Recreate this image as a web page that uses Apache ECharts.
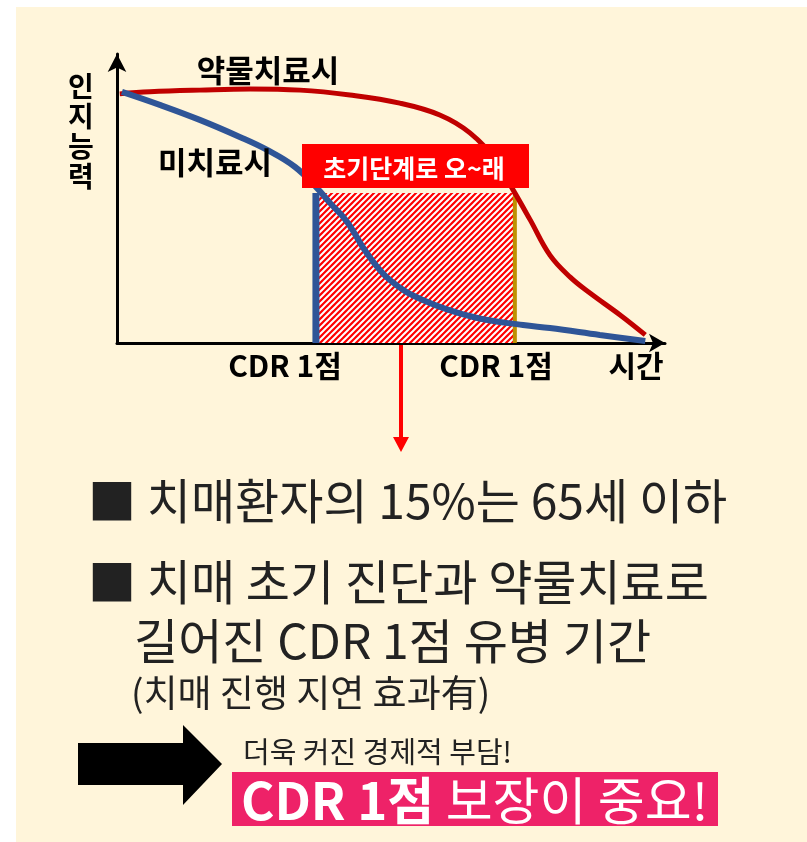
<!DOCTYPE html>
<html><head><meta charset="utf-8">
<script src="https://cdn.jsdelivr.net/npm/echarts@6/dist/echarts.min.js"></script>
<style>html,body{margin:0;padding:0;background:#ffffff;}#c{width:807px;height:842px;}</style>
</head><body><div id="c"></div>
<script>
// ---- data (time units 0-100, cognitive ability 0-100) ----
const treatedTime    = [0.5, 6.0, 15.1, 24.3, 33.4, 42.5, 51.6, 58.9, 64.4, 69.0, 72.3, 75.4, 79.0, 82.7, 86.3, 91.8, 96.4];
const treatedAbility = [86.2, 86.9, 87.5, 87.9, 87.5, 85.8, 83.0, 78.9, 72.7, 63.3, 52.9, 42.6, 30.4, 22.8, 17.3, 9.7, 2.8];
const untreatedTime    = [0.9, 7.8, 15.1, 22.4, 27.4, 32.5, 36.5, 38.9, 42.0, 45.6, 49.8, 55.8, 65.0, 74.1, 79.0, 88.1, 96.4];
const untreatedAbility = [86.9, 82.4, 77.2, 71.3, 66.8, 60.9, 53.6, 48.4, 41.9, 31.1, 21.8, 14.9, 9.0, 6.2, 5.2, 2.8, 0.7];
const cdrPeriod = [36.3, 72.6];   // start / end of CDR 1 stage (time)
const cdrTop = 51.9;              // ability level at CDR 1
const seriesNames = ['약물치료시', '미치료시'];
const axisTitles = ['인지능력', '시간'];
const cdrLabels = ['CDR 1점', 'CDR 1점'];
const boxTitle = '초기단계로 오~래';
const bullets = ['■ 치매환자의 15%는 65세 이하', '■ 치매 초기 진단과 약물치료로', '길어진 CDR 1점 유병 기간', '(치매 진행 지연 효과有)'];
const burdenText = '더욱 커진 경제적 부담!';
const keyText = ['CDR 1점', ' 보장이 중요!'];

const FONT = '"Noto Sans CJK KR", "Noto Sans", sans-serif';
function zip(a, b) { return a.map((v, i) => [v, b[i]]); }
function hatch() {
  const s = 6, c = document.createElement('canvas');
  c.width = s; c.height = s;
  const g = c.getContext('2d');
  g.fillStyle = '#ff0000'; g.fillRect(0, 0, s, s);
  g.strokeStyle = '#ffffff'; g.lineWidth = 2;
  g.beginPath();
  g.moveTo(0, s); g.lineTo(s, 0);
  g.moveTo(-1, 1); g.lineTo(1, -1);
  g.moveTo(s - 1, s + 1); g.lineTo(s + 1, s - 1);
  g.stroke();
  return c;
}
function txt(text, x, y, size, weight, color, align, extra) {
  return Object.assign({ type: 'text', z: 10, style: { text: text, x: x, y: y, fontSize: size, fontWeight: weight, fontFamily: FONT, fill: color, textAlign: align || 'center', textVerticalAlign: 'middle' } }, extra || {});
}

const chart = echarts.init(document.getElementById('c'), null, { renderer: 'canvas' });
chart.setOption({
  animation: false,
  grid: { left: 117, top: 54, width: 548, height: 289 },
  xAxis: { type: 'value', min: 0, max: 100, axisLine: { show: true, symbol: ['none', 'arrow'], symbolSize: [14, 16], lineStyle: { color: '#000', width: 3 } }, axisTick: { show: false }, axisLabel: { show: false }, splitLine: { show: false } },
  yAxis: { type: 'value', min: 0, max: 100, axisLine: { show: true, symbol: ['none', 'arrow'], symbolSize: [14, 18], lineStyle: { color: '#000', width: 3 } }, axisTick: { show: false }, axisLabel: { show: false }, splitLine: { show: false } },
  series: [
    { type: 'line', data: [[cdrPeriod[0], 0], [cdrPeriod[0], cdrTop]], symbol: 'none', lineStyle: { width: 0 }, z: 1,
      markArea: { silent: true, itemStyle: { color: { image: hatch(), repeat: 'repeat' } }, data: [[{ coord: [cdrPeriod[0], 0] }, { coord: [cdrPeriod[1], cdrTop] }]] } },
    { type: 'line', data: [[cdrPeriod[0], 0], [cdrPeriod[0], cdrTop]], symbol: 'none', lineStyle: { color: '#2f5597', width: 7 }, z: 3 },
    { type: 'line', data: [[cdrPeriod[1], 0], [cdrPeriod[1], cdrTop]], symbol: 'none', lineStyle: { color: '#bf9000', width: 4 }, z: 3 },
    { name: seriesNames[0], type: 'line', data: zip(treatedTime, treatedAbility), smooth: 0.4, symbol: 'none', lineStyle: { color: '#c00000', width: 5 }, z: 4 },
    { name: seriesNames[1], type: 'line', data: zip(untreatedTime, untreatedAbility), smooth: 0.4, symbol: 'none', lineStyle: { color: '#2f5597', width: 6 }, z: 5 }
  ],
  graphic: [
    { type: 'rect', z: -100, shape: { x: 16, y: 7, width: 791, height: 835 }, style: { fill: '#fff5da' } },
    txt(seriesNames[0], 268, 70, 31, 'bold', '#000'),
    txt(seriesNames[1], 215, 162, 31, 'bold', '#000'),
    { type: 'text', z: 10, style: { text: axisTitles[0].split('').join('\n'), x: 81, y: 131, fontSize: 28, fontWeight: 'bold', fontFamily: FONT, fill: '#000', textAlign: 'center', textVerticalAlign: 'middle', lineHeight: 30 } },
    { type: 'rect', z: 20, shape: { x: 302, y: 144, width: 227, height: 44 }, style: { fill: '#ff0000' } },
    txt(boxTitle, 414, 168, 25, 'bold', '#fff', 'center', { z: 21 }),
    txt(cdrLabels[0], 285, 366, 30, 'bold', '#000'),
    txt(cdrLabels[1], 496, 366, 30, 'bold', '#000'),
    txt(axisTitles[1], 636, 366, 30, 'bold', '#000'),
    { type: 'rect', z: 10, shape: { x: 399, y: 345, width: 4, height: 95 }, style: { fill: '#ff0000' } },
    { type: 'polygon', z: 10, shape: { points: [[393, 437], [409, 437], [401, 452]] }, style: { fill: '#ff0000' } },
    txt(bullets[0], 88, 501, 48, 'normal', '#222', 'left'),
    txt(bullets[1], 88, 582, 48, 'normal', '#222', 'left'),
    txt(bullets[2], 134, 641, 48, 'normal', '#222', 'left'),
    txt(bullets[3], 131, 693, 37, 'normal', '#222', 'left'),
    { type: 'polygon', z: 10, shape: { points: [[78, 743], [183, 743], [183, 725], [222, 764], [183, 805], [183, 785], [78, 785]] }, style: { fill: '#000' } },
    txt(burdenText, 243, 752, 29, 'normal', '#222', 'left'),
    { type: 'rect', z: 10, shape: { x: 232, y: 772, width: 486, height: 54 }, style: { fill: '#ee2268' } },
    { type: 'text', z: 11, style: { text: '{b|' + keyText[0] + '}{n|' + keyText[1] + '}', x: 241, y: 801, textAlign: 'left', textVerticalAlign: 'middle',
        rich: { b: { fontSize: 51, fontWeight: 'bold', fontFamily: FONT, fill: '#fff', color: '#fff' }, n: { fontSize: 51, fontWeight: 'normal', fontFamily: FONT, fill: '#fff', color: '#fff' } } } }
  ]
});
</script>
</body></html>
